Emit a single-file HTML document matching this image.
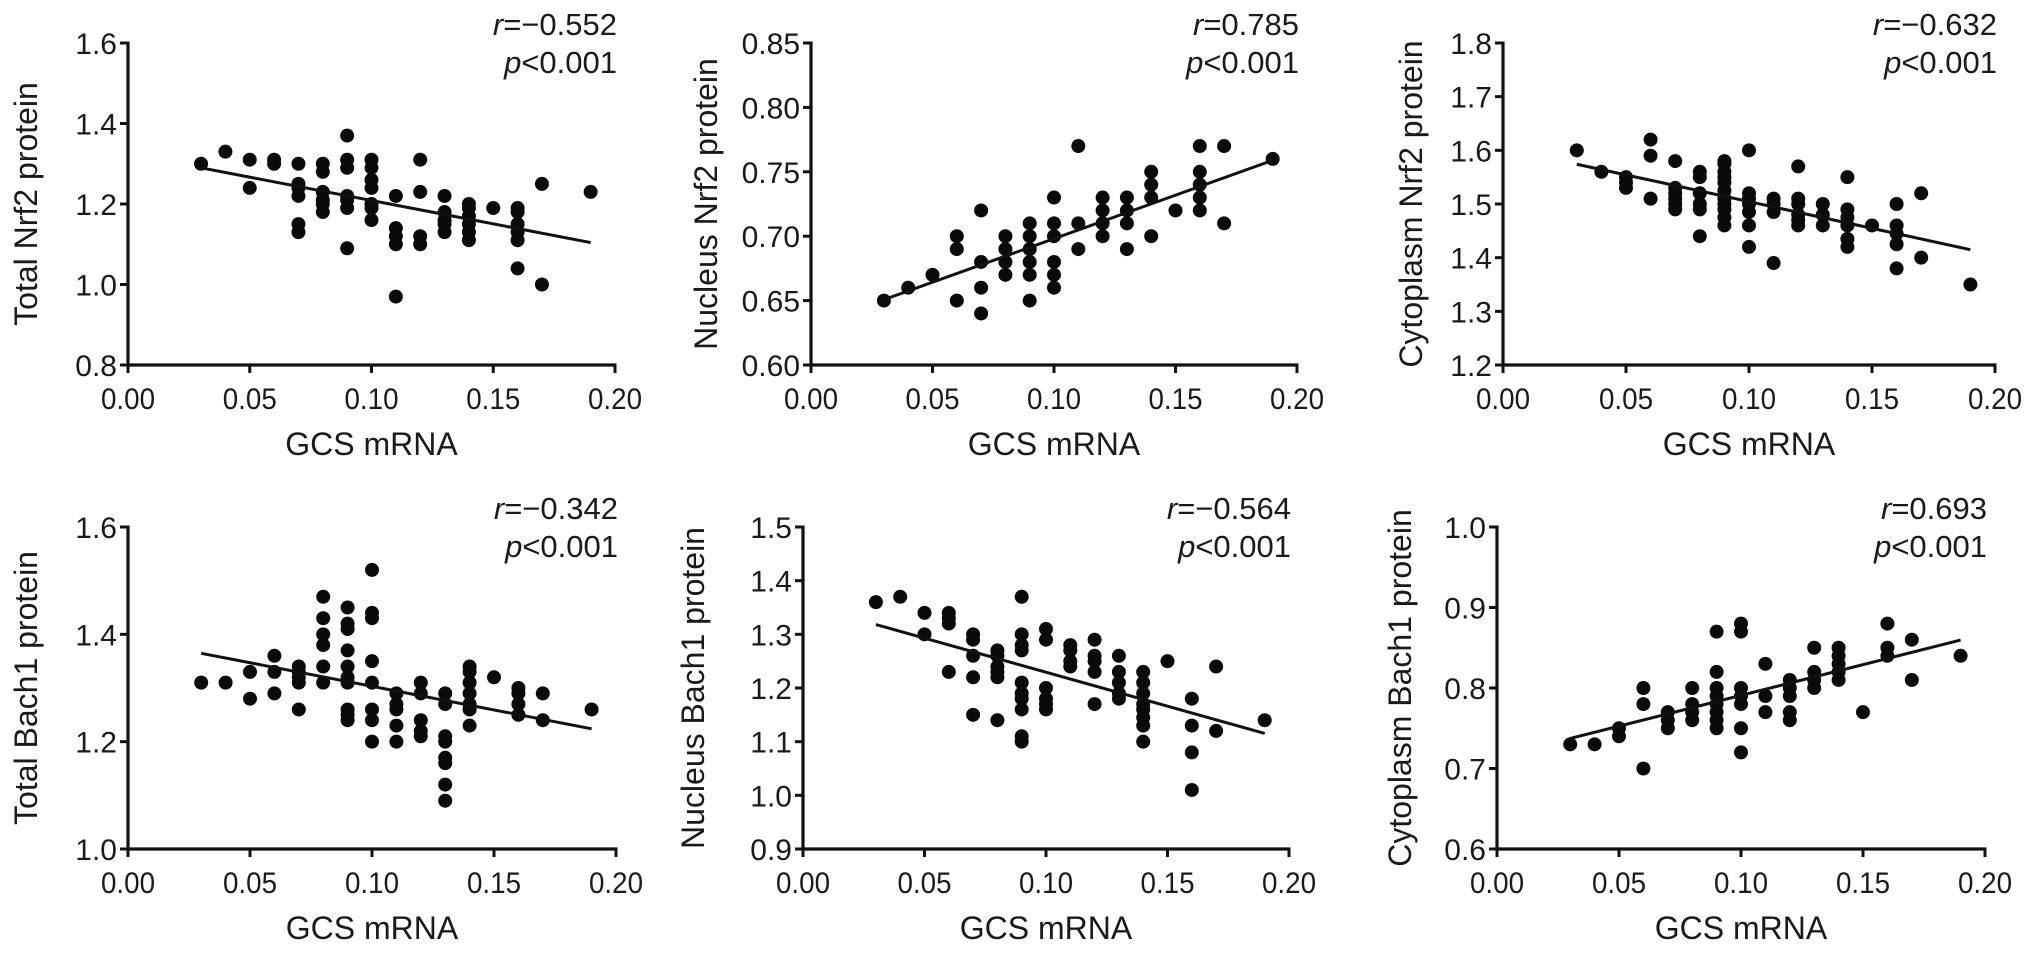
<!DOCTYPE html>
<html>
<head>
<meta charset="utf-8">
<style>
html,body{margin:0;padding:0;background:#fff;}
svg{display:block;font-family:"Liberation Sans",Arial,sans-serif;}
</style>
</head>
<body>
<svg id="fig" width="2032" height="954" viewBox="0 0 2032 954" xmlns="http://www.w3.org/2000/svg"></svg>
<script>
// ---- shared tick arrays ----
const xTicks = [0.00, 0.05, 0.10, 0.15, 0.20];
const xTickLabels = ["0.00", "0.05", "0.10", "0.15", "0.20"];

// ---- Panel 1: Total Nrf2 ----
const p1X = [0.03,0.04,0.05,0.05,0.06,0.06,0.07,0.07,0.07,0.07,0.07,0.07,0.08,0.08,0.08,0.08,0.08,0.08,0.09,0.09,0.09,0.09,0.09,0.09,0.09,0.10,0.10,0.10,0.10,0.10,0.10,0.10,0.11,0.11,0.11,0.11,0.11,0.12,0.12,0.12,0.12,0.13,0.13,0.13,0.13,0.13,0.14,0.14,0.14,0.14,0.14,0.14,0.15,0.16,0.16,0.16,0.16,0.16,0.16,0.17,0.17,0.19];
const p1Y = [1.30,1.33,1.31,1.24,1.31,1.30,1.30,1.25,1.24,1.22,1.15,1.13,1.30,1.28,1.23,1.21,1.20,1.18,1.37,1.31,1.29,1.22,1.21,1.19,1.09,1.31,1.29,1.26,1.24,1.20,1.19,1.16,1.22,1.14,1.12,1.10,0.97,1.31,1.23,1.12,1.10,1.22,1.18,1.16,1.15,1.13,1.20,1.19,1.17,1.15,1.13,1.11,1.19,1.19,1.18,1.15,1.13,1.11,1.04,1.25,1.00,1.23];
const p1YTicks = [0.8,1.0,1.2,1.4,1.6];
const p1YLabels = ["0.8","1.0","1.2","1.4","1.6"];

// ---- Panel 2: Nucleus Nrf2 ----
const p2X = [0.03,0.04,0.05,0.06,0.06,0.06,0.07,0.07,0.07,0.07,0.08,0.08,0.08,0.08,0.09,0.09,0.09,0.09,0.09,0.09,0.10,0.10,0.10,0.10,0.10,0.10,0.11,0.11,0.11,0.12,0.12,0.12,0.12,0.13,0.13,0.13,0.13,0.14,0.14,0.14,0.14,0.15,0.16,0.16,0.16,0.16,0.16,0.17,0.17,0.19];
const p2Y = [0.65,0.66,0.67,0.70,0.69,0.65,0.72,0.68,0.66,0.64,0.70,0.69,0.68,0.67,0.71,0.70,0.69,0.68,0.67,0.65,0.73,0.71,0.70,0.68,0.67,0.66,0.77,0.71,0.69,0.73,0.72,0.71,0.70,0.73,0.72,0.71,0.69,0.75,0.74,0.73,0.70,0.72,0.77,0.75,0.74,0.73,0.72,0.77,0.71,0.76];
const p2YTicks = [0.60,0.65,0.70,0.75,0.80,0.85];
const p2YLabels = ["0.60","0.65","0.70","0.75","0.80","0.85"];

// ---- Panel 3: Cytoplasm Nrf2 ----
const p3X = [0.03,0.04,0.05,0.05,0.05,0.06,0.06,0.06,0.07,0.07,0.07,0.07,0.07,0.07,0.08,0.08,0.08,0.08,0.08,0.08,0.09,0.09,0.09,0.09,0.09,0.09,0.09,0.09,0.09,0.09,0.09,0.10,0.10,0.10,0.10,0.10,0.10,0.10,0.11,0.11,0.11,0.11,0.12,0.12,0.12,0.12,0.12,0.12,0.13,0.13,0.13,0.14,0.14,0.14,0.14,0.14,0.14,0.15,0.16,0.16,0.16,0.16,0.16,0.17,0.17,0.19];
const p3Y = [1.60,1.56,1.55,1.54,1.53,1.62,1.59,1.51,1.58,1.53,1.52,1.51,1.50,1.49,1.56,1.55,1.52,1.50,1.49,1.44,1.58,1.575,1.56,1.55,1.54,1.525,1.51,1.50,1.49,1.475,1.46,1.60,1.52,1.51,1.50,1.485,1.46,1.42,1.51,1.50,1.485,1.39,1.57,1.51,1.50,1.48,1.47,1.46,1.50,1.48,1.46,1.55,1.49,1.475,1.46,1.435,1.42,1.46,1.50,1.46,1.445,1.425,1.38,1.52,1.40,1.35];
const p3YTicks = [1.2,1.3,1.4,1.5,1.6,1.7,1.8];
const p3YLabels = ["1.2","1.3","1.4","1.5","1.6","1.7","1.8"];

// ---- Panel 4: Total Bach1 ----
const p4X = [0.03,0.04,0.05,0.05,0.06,0.06,0.06,0.07,0.07,0.07,0.07,0.07,0.08,0.08,0.08,0.08,0.08,0.08,0.09,0.09,0.09,0.09,0.09,0.09,0.09,0.09,0.09,0.09,0.10,0.10,0.10,0.10,0.10,0.10,0.10,0.10,0.11,0.11,0.11,0.11,0.11,0.12,0.12,0.12,0.12,0.12,0.13,0.13,0.13,0.13,0.13,0.13,0.13,0.13,0.14,0.14,0.14,0.14,0.14,0.14,0.14,0.15,0.16,0.16,0.16,0.16,0.17,0.17,0.19];
const p4Y = [1.31,1.31,1.33,1.28,1.36,1.33,1.29,1.34,1.33,1.32,1.31,1.26,1.47,1.43,1.40,1.38,1.34,1.31,1.45,1.42,1.41,1.37,1.34,1.32,1.31,1.26,1.25,1.24,1.52,1.44,1.43,1.35,1.31,1.26,1.24,1.20,1.29,1.27,1.26,1.23,1.20,1.31,1.29,1.24,1.22,1.21,1.29,1.27,1.21,1.20,1.17,1.16,1.12,1.09,1.34,1.33,1.31,1.29,1.27,1.26,1.23,1.32,1.30,1.29,1.27,1.25,1.29,1.24,1.26];
const p4YTicks = [1.0,1.2,1.4,1.6];
const p4YLabels = ["1.0","1.2","1.4","1.6"];

// ---- Panel 5: Nucleus Bach1 ----
const p5X = [0.03,0.04,0.05,0.05,0.06,0.06,0.06,0.06,0.07,0.07,0.07,0.07,0.07,0.08,0.08,0.08,0.08,0.08,0.08,0.09,0.09,0.09,0.09,0.09,0.09,0.09,0.09,0.09,0.09,0.10,0.10,0.10,0.10,0.10,0.10,0.11,0.11,0.11,0.11,0.12,0.12,0.12,0.12,0.12,0.13,0.13,0.13,0.13,0.13,0.14,0.14,0.14,0.14,0.14,0.14,0.14,0.14,0.15,0.16,0.16,0.16,0.16,0.17,0.17,0.19];
const p5Y = [1.36,1.37,1.34,1.30,1.34,1.33,1.32,1.23,1.30,1.29,1.26,1.22,1.15,1.27,1.26,1.24,1.23,1.22,1.14,1.37,1.30,1.28,1.27,1.21,1.19,1.18,1.16,1.11,1.10,1.31,1.29,1.20,1.18,1.17,1.16,1.28,1.27,1.25,1.24,1.29,1.26,1.25,1.23,1.17,1.26,1.23,1.21,1.19,1.18,1.23,1.21,1.19,1.17,1.16,1.145,1.13,1.10,1.25,1.18,1.13,1.08,1.01,1.24,1.12,1.14];
const p5YTicks = [0.9,1.0,1.1,1.2,1.3,1.4,1.5];
const p5YLabels = ["0.9","1.0","1.1","1.2","1.3","1.4","1.5"];

// ---- Panel 6: Cytoplasm Bach1 ----
const p6X = [0.03,0.04,0.05,0.05,0.06,0.06,0.06,0.07,0.07,0.07,0.08,0.08,0.08,0.08,0.09,0.09,0.09,0.09,0.09,0.09,0.09,0.09,0.10,0.10,0.10,0.10,0.10,0.10,0.10,0.11,0.11,0.11,0.12,0.12,0.12,0.12,0.12,0.13,0.13,0.13,0.13,0.14,0.14,0.14,0.14,0.14,0.15,0.16,0.16,0.16,0.17,0.17,0.19];
const p6Y = [0.73,0.73,0.75,0.74,0.80,0.78,0.70,0.77,0.76,0.75,0.80,0.78,0.77,0.76,0.87,0.82,0.80,0.79,0.78,0.77,0.76,0.75,0.88,0.87,0.80,0.79,0.78,0.75,0.72,0.83,0.79,0.77,0.81,0.80,0.79,0.77,0.76,0.85,0.82,0.81,0.80,0.85,0.84,0.83,0.82,0.81,0.77,0.88,0.85,0.84,0.86,0.81,0.84];
const p6YTicks = [0.6,0.7,0.8,0.9,1.0];
const p6YLabels = ["0.6","0.7","0.8","0.9","1.0"];

const yTitles = ["Total Nrf2 protein","Nucleus Nrf2 protein","Cytoplasm Nrf2 protein","Total Bach1 protein","Nucleus Bach1 protein","Cytoplasm Bach1 protein"];
const rLabels = ["\u22120.552","0.785","\u22120.632","\u22120.342","\u22120.564","0.693"];

const NS = "http://www.w3.org/2000/svg";
const svg = document.getElementById("fig");
function mk(tag, attrs, parent){
  const e = document.createElementNS(NS, tag);
  for (const k in attrs) e.setAttribute(k, attrs[k]);
  (parent||svg).appendChild(e);
  return e;
}

// layout (pixel geometry, not data)
const layout = [
  {x0:128, x1:615, yT:43, yB:365, titleX:26},
  {x0:811, x1:1297, yT:43, yB:365, titleX:706},
  {x0:1503, x1:1995, yT:43, yB:365, titleX:1411},
  {x0:128, x1:616, yT:527, yB:849, titleX:26},
  {x0:803, x1:1289, yT:527, yB:849, titleX:693},
  {x0:1497, x1:1985, yT:527, yB:849, titleX:1400}
];
const panels = [
  [p1X,p1Y,p1YTicks,p1YLabels],[p2X,p2Y,p2YTicks,p2YLabels],[p3X,p3Y,p3YTicks,p3YLabels],
  [p4X,p4Y,p4YTicks,p4YLabels],[p5X,p5Y,p5YTicks,p5YLabels],[p6X,p6Y,p6YTicks,p6YLabels]
];

panels.forEach((p, i) => {
  const [xs, ys, yt, yl] = p;
  const L = layout[i];
  const g = mk("g", {});
  
  
  const xmin = xTicks[0], xmax = xTicks[xTicks.length-1];
  const ymin = yt[0], ymax = yt[yt.length-1];
  const sx = v => L.x0 + (v - xmin) / (xmax - xmin) * (L.x1 - L.x0);
  const sy = v => L.yB - (v - ymin) / (ymax - ymin) * (L.yB - L.yT);

  const xa = mk("line", {x1:L.x0-1.5, y1:L.yB, x2:L.x1+1.5, y2:L.yB, stroke:"#111", "stroke-width":3.2}, g);
  
  
  const ya = mk("line", {x1:L.x0, y1:L.yT-1.5, x2:L.x0, y2:L.yB+1.5, stroke:"#111", "stroke-width":3.2}, g);
  
  

  xTicks.forEach((t, k) => {
    const X = sx(t);
    const tk = mk("line", {x1:X, y1:L.yB, x2:X, y2:L.yB+8, stroke:"#111", "stroke-width":3}, g);
    
    
    const tl = mk("text", {x:X, y:L.yB+44, "font-size":30, "text-anchor":"middle", fill:"#1a1a1a", textLength:54, lengthAdjust:"spacingAndGlyphs"}, g);
    tl.textContent = xTickLabels[k];
    
    
  });
  yt.forEach((t, k) => {
    const Y = sy(t);
    const tk = mk("line", {x1:L.x0-8, y1:Y, x2:L.x0, y2:Y, stroke:"#111", "stroke-width":3}, g);
    
    
    const tl = mk("text", {x:L.x0-11, y:Y+11, "font-size":30, "text-anchor":"end", fill:"#1a1a1a"}, g);
    tl.textContent = yl[k];
    
    
  });

  const xt = mk("text", {x:(L.x0+L.x1)/2, y:L.yB+90, "font-size":32, "text-anchor":"middle", fill:"#1a1a1a"}, g);
  xt.textContent = "GCS mRNA";
  
  
  const cy = (L.yT + L.yB)/2;
  const yTitle = mk("text", {x:L.titleX, y:cy, "font-size":32, "text-anchor":"middle", "dominant-baseline":"central", fill:"#1a1a1a", transform:"rotate(-90 "+L.titleX+" "+cy+")"}, g);
  yTitle.textContent = yTitles[i];
  
  

  const rt = mk("text", {x:L.x1+2, y:L.yT-8, "font-size":31, "text-anchor":"end", fill:"#1a1a1a"}, g);
  rt.innerHTML = '<tspan font-style="italic">r</tspan>=' + rLabels[i];
  
  
  const pt = mk("text", {x:L.x1+2, y:L.yT+30, "font-size":31, "text-anchor":"end", fill:"#1a1a1a"}, g);
  pt.innerHTML = '<tspan font-style="italic">p</tspan>&lt;0.001';
  
  

  xs.forEach((xv, k) => {
    const c = mk("circle", {cx:sx(xv), cy:sy(ys[k]), r:7, fill:"#0a0a0a"}, g);
    
    
  });

  const n = xs.length;
  const mx = xs.reduce((a,b)=>a+b,0)/n, my = ys.reduce((a,b)=>a+b,0)/n;
  let sxy = 0, sxx = 0;
  for (let k=0;k<n;k++){ sxy += (xs[k]-mx)*(ys[k]-my); sxx += (xs[k]-mx)*(xs[k]-mx); }
  const b = sxy/sxx, a = my - b*mx;
  const lo = Math.min(...xs), hi = Math.max(...xs);
  const rl = mk("line", {x1:sx(lo), y1:sy(a+b*lo), x2:sx(hi), y2:sy(a+b*hi), stroke:"#111", "stroke-width":3}, g);
  
  
});
</script>
</body>
</html>
